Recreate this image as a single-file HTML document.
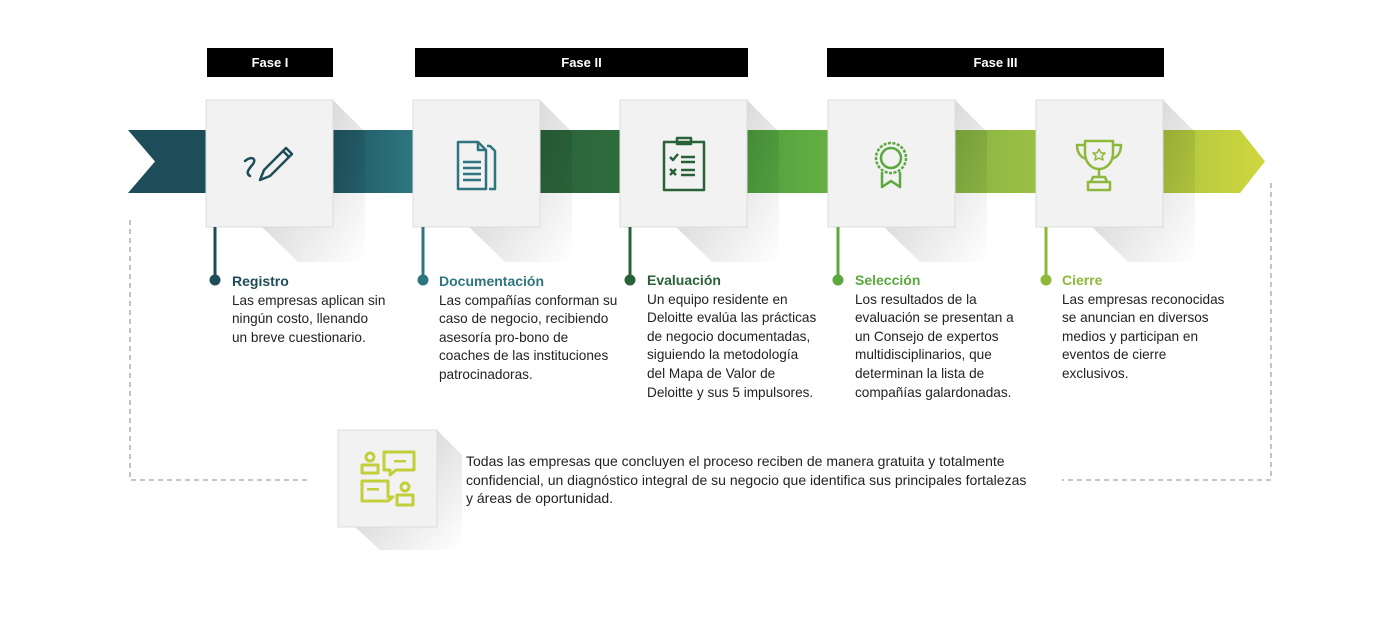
<!DOCTYPE html>
<html><head><meta charset="utf-8"><style>
body{margin:0;width:1388px;height:624px;background:#fff;position:relative;overflow:hidden;font-family:"Liberation Sans",sans-serif}
.ph{position:absolute;top:48px;height:29px;background:#000;color:#fff;font-weight:bold;font-size:13px;text-align:center;line-height:29px}
.t{position:absolute;font-size:13.6px;line-height:18.6px;color:#222;white-space:nowrap}
.t b{font-size:14px}
</style></head><body>
<svg width="1388" height="624" style="position:absolute;left:0;top:0">
<defs>
<linearGradient id="g1" x1="0" x2="1"><stop offset="0" stop-color="#1f5562"/><stop offset="1" stop-color="#2f7780"/></linearGradient>
<linearGradient id="g2" x1="0" x2="1"><stop offset="0" stop-color="#2a633a"/><stop offset="1" stop-color="#2e6c3c"/></linearGradient>
<linearGradient id="g3" x1="0" x2="1"><stop offset="0" stop-color="#4d9e3f"/><stop offset="1" stop-color="#66b043"/></linearGradient>
<linearGradient id="g4" x1="0" x2="1"><stop offset="0" stop-color="#85b443"/><stop offset="1" stop-color="#9dc045"/></linearGradient>
<linearGradient id="g5" x1="0" x2="1"><stop offset="0" stop-color="#aac53f"/><stop offset="1" stop-color="#d0d73e"/></linearGradient>
<linearGradient id="sh" x1="0" y1="0" x2="1" y2="1"><stop offset="0" stop-color="#000" stop-opacity=".22"/><stop offset="1" stop-color="#000" stop-opacity="0"/></linearGradient>
</defs>
<polygon points="128,130 210,130 210,193 128,193 155,161.5" fill="#1e4d5a"/>
<rect x="330" y="130" width="86" height="63" fill="url(#g1)"/>
<rect x="537" y="130" width="86" height="63" fill="url(#g2)"/>
<rect x="744" y="130" width="87" height="63" fill="url(#g3)"/>
<rect x="952" y="130" width="87" height="63" fill="url(#g4)"/>
<polygon points="1160,130 1240,130 1265,161.5 1240,193 1160,193" fill="url(#g5)"/>
<g fill="url(#sh)">
<polygon points="333,100 365,132 365,262 298,262 262,227 333,227"/>
<polygon points="540,100 572,132 572,262 505,262 469,227 540,227"/>
<polygon points="747,100 779,132 779,262 712,262 676,227 747,227"/>
<polygon points="955,100 987,132 987,262 920,262 884,227 955,227"/>
<polygon points="1163,100 1195,132 1195,262 1128,262 1092,227 1163,227"/>
<polygon points="437,430 462,455 462,550 380,550 355,527 437,527"/>
</g>
<g fill="#f2f2f2" stroke="#dcdcdc" stroke-width="1">
<rect x="206" y="100" width="127" height="127"/>
<rect x="413" y="100" width="127" height="127"/>
<rect x="620" y="100" width="127" height="127"/>
<rect x="828" y="100" width="127" height="127"/>
<rect x="1036" y="100" width="127" height="127"/>
<rect x="338" y="430" width="99" height="97"/>
</g>
<g stroke-width="3">
<line x1="215" y1="227" x2="215" y2="280" stroke="#1e4d5a"/><circle cx="215" cy="280" r="5.5" fill="#1e4d5a" stroke="none"/>
<line x1="423" y1="227" x2="423" y2="280" stroke="#2e7580"/><circle cx="423" cy="280" r="5.5" fill="#2e7580" stroke="none"/>
<line x1="630" y1="227" x2="630" y2="280" stroke="#2a6238"/><circle cx="630" cy="280" r="5.5" fill="#2a6238" stroke="none"/>
<line x1="838" y1="227" x2="838" y2="280" stroke="#5aa83e"/><circle cx="838" cy="280" r="5.5" fill="#5aa83e" stroke="none"/>
<line x1="1046" y1="227" x2="1046" y2="280" stroke="#8db83c"/><circle cx="1046" cy="280" r="5.5" fill="#8db83c" stroke="none"/>
</g>
<g stroke="#888" stroke-width="1" stroke-dasharray="5,4" fill="none">
<polyline points="130,220 130,480 308,480"/>
<polyline points="1271,183 1271,480 1062,480"/>
</g>
<g fill="none" stroke="#1e4d5a" stroke-width="2.5" stroke-linecap="round" stroke-linejoin="round">
<path d="M245,161 c6,-5 12,-3 8,3 c-4,5 -8,9 -3,12"/>
<path d="M260,180 l4,-10 l22,-22 l6,6 l-22,22 z M283,151 l6,6"/>
</g>
<g fill="none" stroke="#2e7580" stroke-width="2.5" stroke-linejoin="round">
<path d="M458,142 h20 l8,8 v39 h-28 z"/><path d="M478,142 v8 h8"/>
<path d="M487,146 h3 l5,5 v38 h-6"/>
<path d="M463,162 h18 M463,168 h18 M463,174 h18 M463,180 h18"/>
</g>
<g fill="none" stroke="#2a6238" stroke-width="2.5" stroke-linejoin="round">
<path d="M664,142 h40 v48 h-40 z"/><path d="M677,138 h14 v6 h-14 z"/>
<path d="M670,157 l3,3 l5,-6 M681,157 h14 M681,162 h14 M670,169 l6,6 M676,169 l-6,6 M681,170 h14 M681,175 h14"/>
</g>
<g fill="none" stroke="#5aa83e" stroke-width="2.5" stroke-linejoin="round">
<circle cx="891" cy="158" r="15" stroke-dasharray="3,1.5"/><circle cx="891" cy="158" r="10"/>
<path d="M882,172 v15 l9,-6 l9,6 v-15"/>
</g>
<g fill="none" stroke="#8db83c" stroke-width="2.5" stroke-linejoin="round">
<path d="M1085,141 h28 v12 c0,10 -7,16 -14,16 c-7,0 -14,-6 -14,-16 z"/>
<path d="M1085,145 h-8 c0,8 4,13 10,14 M1113,145 h8 c0,8 -4,13 -10,14"/>
<path d="M1099,169 v8 M1093,177 h12 l2,5 h-16 z M1088,182 h22 v8 h-22 z"/>
<path d="M1099,149 l2,4 h4 l-3,3 l1,4 l-4,-2 l-4,2 l1,-4 l-3,-3 h4 z" stroke-width="1.5"/>
</g>
<g fill="none" stroke="#c2cf38" stroke-width="3" stroke-linejoin="round">
<circle cx="370" cy="457" r="4"/><path d="M362,473 v-8 h16 v8 z"/>
<path d="M384,452 h30 v18 h-18 l-6,5 v-5 h-6 z"/>
<path d="M362,481 h26 v16 h5 l-5,4 h-26 z"/>
<circle cx="405" cy="487" r="4"/><path d="M397,505 v-10 h16 v10 z"/>
</g>
<g fill="#c2cf38"><rect x="394" y="460" width="12" height="2.5"/><rect x="367" y="488" width="12" height="2.5"/></g>
</svg>
<div class="ph" style="left:207px;width:126px">Fase I</div>
<div class="ph" style="left:415px;width:333px">Fase II</div>
<div class="ph" style="left:827px;width:337px">Fase III</div>
<div class="t" style="left:232px;top:272px"><b style="color:#1e4d5a">Registro</b><br>Las empresas aplican sin<br>ningún costo, llenando<br>un breve cuestionario.</div>
<div class="t" style="left:439px;top:272px"><b style="color:#2e7580">Documentación</b><br>Las compañías conforman su<br>caso de negocio, recibiendo<br>asesoría pro-bono de<br>coaches de las instituciones<br>patrocinadoras.</div>
<div class="t" style="left:647px;top:271px"><b style="color:#2a6238">Evaluación</b><br>Un equipo residente en<br>Deloitte evalúa las prácticas<br>de negocio documentadas,<br>siguiendo la metodología<br>del Mapa de Valor de<br>Deloitte y sus 5 impulsores.</div>
<div class="t" style="left:855px;top:271px"><b style="color:#5aa83e">Selección</b><br>Los resultados de la<br>evaluación se presentan a<br>un Consejo de expertos<br>multidisciplinarios, que<br>determinan la lista de<br>compañías galardonadas.</div>
<div class="t" style="left:1062px;top:271px"><b style="color:#8db83c">Cierre</b><br>Las empresas reconocidas<br>se anuncian en diversos<br>medios y participan en<br>eventos de cierre<br>exclusivos.</div>
<div class="t" style="left:466px;top:452px;font-size:14px">Todas las empresas que concluyen el proceso reciben de manera gratuita y totalmente<br>confidencial, un diagnóstico integral de su negocio que identifica sus principales fortalezas<br>y áreas de oportunidad.</div>
</body></html>
